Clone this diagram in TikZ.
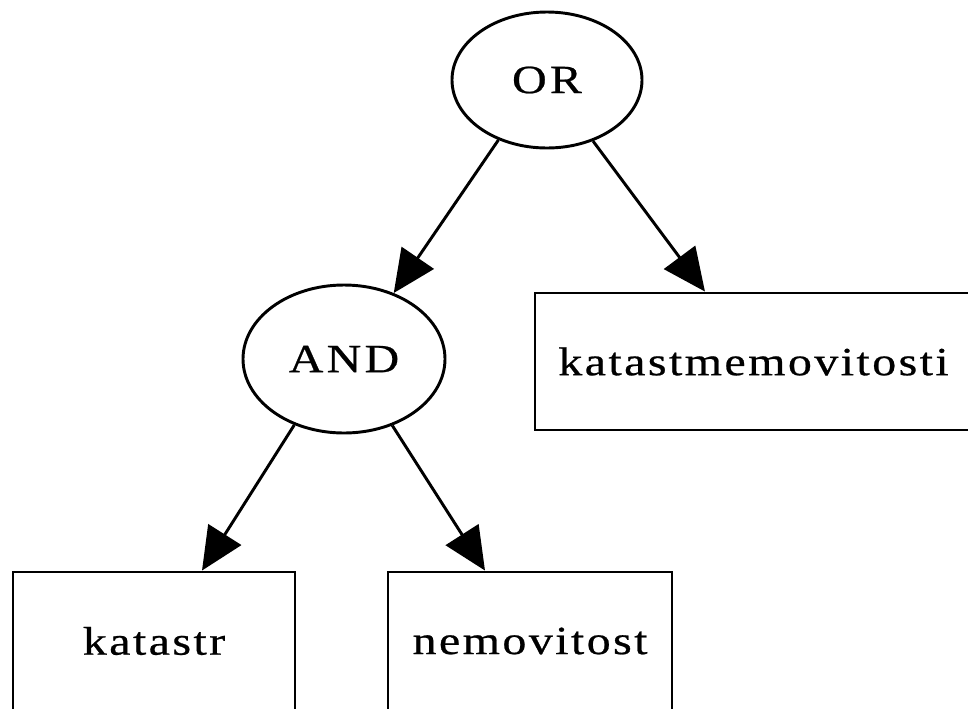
\documentclass[tikz,border=0pt]{standalone}
\usepackage{fontspec}
\setmainfont{Liberation Serif}
\newfontfamily\lsfont[FakeStretch=1.2,LetterSpace=6,FakeBold=0.6]{Liberation Serif}
\newfontfamily\capsfont[FakeStretch=1.2,LetterSpace=8,FakeBold=0.6]{Liberation Serif}
\usetikzlibrary{shapes.geometric,arrows.meta}
\tikzset{
  gnode/.style={draw=black,line width=2.2pt,inner sep=0pt,font=\fontsize{30pt}{33pt}\selectfont},
  gate/.style={gnode,ellipse,font=\fontsize{30pt}{33pt}\capsfont},
  leaf/.style={gnode,rectangle,font=\fontsize{30pt}{33pt}\lsfont},
  edge/.style={draw=black,line width=2.2pt,-{Triangle[length=32pt,width=29pt]}}
}
\begin{document}
\begin{tikzpicture}[x=0.75pt,y=-0.75pt]
\useasboundingbox (0,0) rectangle (968,708);
\node[gate,minimum width=142.5pt,minimum height=102pt] (or) at (547,80) {OR};
\node[gate,minimum width=151.5pt,minimum height=111pt] (and) at (344,359) {AND};
\node[leaf,minimum width=327.75pt,minimum height=102.75pt] (kn) at (753.5,361.5) {katastmemovitosti};
\node[leaf,minimum width=211.5pt,minimum height=103.5pt] (ka) at (154,641) {katastr};
\node[leaf,minimum width=213pt,minimum height=103.5pt] (ne) at (530,641) {nemovitost};
\draw[edge] (or.231.7) -- (and.53);
\draw[edge] (or.307.7) -- ([xshift=-36.4pt]kn.north);
\draw[edge] (and.233.4) -- ([xshift=36pt]ka.north);
\draw[edge] (and.306.6) -- ([xshift=-33.75pt]ne.north);
\end{tikzpicture}
\end{document}
